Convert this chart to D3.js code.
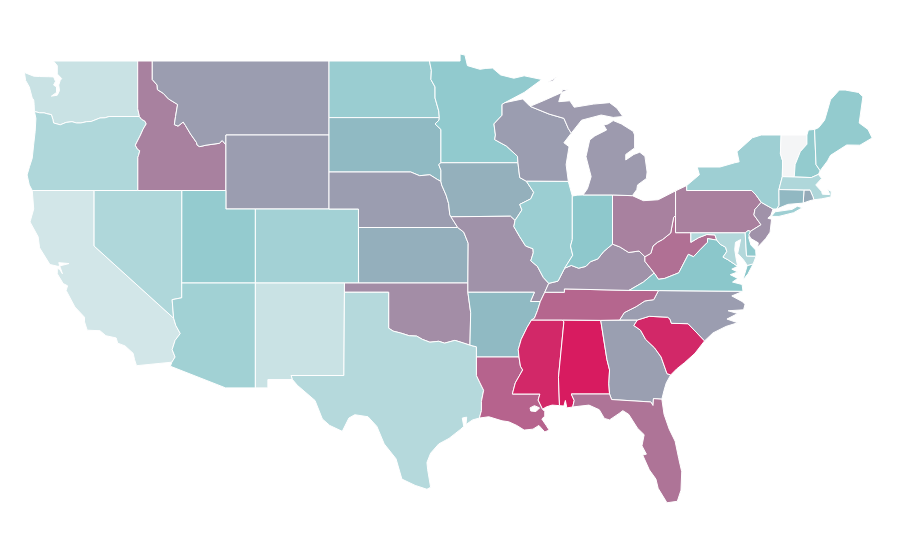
<!DOCTYPE html>
<html lang="en">

<head>
  <meta charset="utf-8">
  <title>US states choropleth</title>
  <script src="https://d3js.org/d3.v7.min.js"></script>
  <style>
    body { margin: 0; background: #fff; }
    #chart path { stroke: #fff; stroke-width: 1px; fill-rule: evenodd; }
  </style>
</head>

<body>
  <div id="chart"></div>

  <script>
    const WA = [[[-124.73,48.38],[-124.1,48.18],[-123.7,48.16],[-123.1,48.15],[-122.75,48.14],[-122.62,47.9],[-122.75,47.7],[-122.55,47.6],[-122.55,47.3],[-122.9,47.1],[-122.5,47.15],[-122.35,47.4],[-122.4,47.7],[-122.3,47.95],[-122.2,48.05],[-122.5,48.3],[-122.5,48.75],[-122.76,49],[-117.03,49],[-117.04,46.42],[-116.92,46],[-118.98,46],[-119.25,45.93],[-119.6,45.92],[-120.2,45.73],[-120.5,45.72],[-120.9,45.65],[-121.2,45.65],[-121.5,45.72],[-121.9,45.68],[-122.3,45.55],[-122.75,45.65],[-122.8,45.85],[-122.9,46.1],[-123.2,46.15],[-123.4,46.2],[-123.7,46.2],[-124.05,46.27],[-124.07,46.65],[-124.1,46.9],[-124.2,47],[-124.4,47.6],[-124.65,47.95]]];
    const OR = [[[-124.05,46.27],[-123.7,46.2],[-123.4,46.2],[-123.2,46.15],[-122.9,46.1],[-122.8,45.85],[-122.75,45.65],[-122.3,45.55],[-121.9,45.68],[-121.5,45.72],[-121.2,45.65],[-120.9,45.65],[-120.5,45.72],[-120.2,45.73],[-119.6,45.92],[-119.25,45.93],[-118.98,46],[-116.92,46],[-116.78,45.85],[-116.55,45.75],[-116.46,45.6],[-116.67,45.32],[-116.85,45],[-117.2,44.45],[-117.05,44.23],[-116.9,44.15],[-116.98,43.9],[-117.03,43.8],[-117.03,42],[-124.2,42],[-124.4,42.3],[-124.55,42.84],[-124.38,43.3],[-124.2,43.75],[-124.1,44.5],[-124,45.2],[-123.95,45.9]]];
    const CA = [[[-124.2,42],[-120,42],[-120,39],[-114.6,35.1],[-114.45,34.7],[-114.15,34.27],[-114.5,33.9],[-114.7,33.4],[-114.5,33],[-114.72,32.72],[-117.12,32.53],[-117.25,32.85],[-117.35,33.2],[-117.9,33.6],[-118.4,33.75],[-118.5,34.03],[-119.2,34.15],[-119.6,34.42],[-120.47,34.45],[-120.65,34.9],[-120.65,35.15],[-121.3,35.7],[-121.9,36.6],[-121.8,36.85],[-122.1,36.97],[-122.5,37.5],[-122.5,37.78],[-122.35,37.75],[-122.15,37.5],[-122.3,37.85],[-122.4,38.1],[-121.7,38.05],[-122.45,37.9],[-123,38],[-123.7,38.9],[-123.8,39.5],[-124.35,40.3],[-124.1,41]]];
    const NV = [[[-120,42],[-114.04,42],[-114.05,36.2],[-114.7,36.1],[-114.6,35.1],[-120,39]]];
    const ID = [[[-117.04,49],[-116.05,49],[-116.05,48],[-115.72,47.7],[-115.7,47.45],[-115.3,47.25],[-114.95,46.95],[-114.33,46.65],[-114.47,46],[-114.55,45.56],[-114.3,45.48],[-113.95,45.7],[-113.8,45.52],[-113.45,45.05],[-113.05,44.6],[-113,44.45],[-112.83,44.37],[-112.4,44.45],[-111.5,44.55],[-111.3,44.7],[-111.05,44.47],[-111.05,42],[-117.03,42],[-117.03,43.8],[-116.98,43.9],[-116.9,44.15],[-117.05,44.23],[-117.2,44.45],[-116.85,45],[-116.67,45.32],[-116.46,45.6],[-116.55,45.75],[-116.78,45.85],[-116.92,46],[-117.04,46.42]]];
    const MT = [[[-116.05,49],[-104.05,49],[-104.05,45],[-111.05,45],[-111.05,44.47],[-111.3,44.7],[-111.5,44.55],[-112.4,44.45],[-112.83,44.37],[-113,44.45],[-113.05,44.6],[-113.45,45.05],[-113.8,45.52],[-113.95,45.7],[-114.3,45.48],[-114.55,45.56],[-114.47,46],[-114.33,46.65],[-114.95,46.95],[-115.3,47.25],[-115.7,47.45],[-115.72,47.7],[-116.05,48]]];
    const WY = [[[-111.05,45],[-104.05,45],[-104.05,41],[-111.05,41]]];
    const UT = [[[-114.04,42],[-111.05,42],[-111.05,41],[-109.05,41],[-109.05,37],[-114.05,37]]];
    const CO = [[[-109.05,41],[-102.05,41],[-102.05,37],[-109.05,37]]];
    const AZ = [[[-114.05,37],[-109.05,37],[-109.05,31.33],[-111.07,31.33],[-114.82,32.5],[-114.72,32.72],[-114.5,33],[-114.7,33.4],[-114.5,33.9],[-114.15,34.27],[-114.45,34.7],[-114.6,35.1],[-114.7,36.1],[-114.05,36.2]]];
    const NM = [[[-109.05,37],[-103,37],[-103.04,32],[-106.62,32],[-106.53,31.78],[-108.2,31.78],[-108.2,31.33],[-109.05,31.33]]];
    const ND = [[[-104.05,49],[-97.23,49],[-97.1,48.5],[-97.13,48],[-96.85,47.6],[-96.85,47],[-96.6,46.3],[-96.56,45.94],[-104.05,45.94]]];
    const SD = [[[-104.05,45.94],[-96.56,45.94],[-96.58,45.8],[-96.85,45.6],[-96.45,45.3],[-96.45,43.5],[-96.6,43.4],[-96.45,43.1],[-96.45,42.49],[-96.7,42.6],[-97.2,42.85],[-97.9,42.8],[-98.5,43],[-104.05,43]]];
    const NE = [[[-104.05,43],[-98.5,43],[-97.9,42.8],[-97.2,42.85],[-96.7,42.6],[-96.45,42.49],[-96.4,42.3],[-96.1,41.75],[-95.93,41.3],[-95.85,40.7],[-95.77,40.58],[-95.31,40],[-102.05,40],[-102.05,41],[-104.05,41]]];
    const KS = [[[-102.05,40],[-95.31,40],[-94.9,39.75],[-94.6,39.15],[-94.62,37],[-102.04,37]]];
    const OK = [[[-103,37],[-94.62,37],[-94.62,36.5],[-94.43,35.4],[-94.48,33.64],[-94.9,33.75],[-95.5,33.9],[-96.2,33.75],[-96.6,33.85],[-97.2,33.8],[-97.7,33.95],[-98.1,34.13],[-98.6,34.15],[-99.2,34.3],[-99.7,34.4],[-100,34.56],[-100,36.5],[-103,36.5]]];
    const TX = [[[-103,36.5],[-100,36.5],[-100,34.56],[-99.7,34.4],[-99.2,34.3],[-98.6,34.15],[-98.1,34.13],[-97.7,33.95],[-97.2,33.8],[-96.6,33.85],[-96.2,33.75],[-95.5,33.9],[-94.9,33.75],[-94.48,33.64],[-94.04,33.55],[-94.04,33],[-94.04,32],[-93.8,31.6],[-93.55,31.2],[-93.7,30.6],[-93.7,30.1],[-93.84,29.7],[-94.3,29.6],[-94.75,29.35],[-94.7,29.75],[-95,29.7],[-94.9,29.25],[-95.1,29.1],[-95.9,28.6],[-96.6,28.3],[-97.15,27.8],[-97.4,27.3],[-97.35,26.9],[-97.15,25.96],[-97.4,25.85],[-98.2,26.06],[-99.1,26.4],[-99.5,27.5],[-100.3,28.3],[-100.8,29.25],[-101.4,29.77],[-102.3,29.88],[-102.7,29.7],[-103.15,28.98],[-104,29.3],[-104.5,29.65],[-105,30.65],[-106.2,31.47],[-106.53,31.78],[-106.62,32],[-103.04,32]]];
    const MN = [[[-97.23,49],[-95.15,49],[-95.15,49.38],[-94.82,49.32],[-94.65,48.75],[-93.8,48.55],[-93.4,48.6],[-92.95,48.62],[-92.4,48.25],[-91.5,48.07],[-90.8,48.2],[-89.6,48],[-90.8,47.3],[-92.1,46.75],[-92.3,46.65],[-92.3,46.07],[-92.85,45.6],[-92.75,45],[-92.8,44.75],[-92,44.4],[-91.25,43.85],[-91.22,43.5],[-96.45,43.5],[-96.45,45.3],[-96.85,45.6],[-96.58,45.8],[-96.56,45.94],[-96.6,46.3],[-96.85,47],[-96.85,47.6],[-97.13,48],[-97.1,48.5]]];
    const IA = [[[-96.45,43.5],[-91.22,43.5],[-91.1,42.7],[-90.65,42.5],[-90.15,41.9],[-90.35,41.55],[-91.1,41.25],[-90.95,40.95],[-91.42,40.38],[-91.73,40.61],[-95.77,40.58],[-95.85,40.7],[-95.93,41.3],[-96.1,41.75],[-96.4,42.3],[-96.45,42.49],[-96.45,43.1],[-96.6,43.4]]];
    const MO = [[[-95.77,40.58],[-91.73,40.61],[-91.42,40.38],[-91.5,40.05],[-91.1,39.5],[-90.7,39],[-90.2,38.85],[-90.18,38.63],[-90.35,38.2],[-89.9,37.9],[-89.5,37.3],[-89.13,36.98],[-89.4,36.5],[-89.7,36],[-90.37,36],[-90.1,36.5],[-94.62,36.5],[-94.62,37],[-94.6,39.15],[-94.9,39.75],[-95.31,40]]];
    const AR = [[[-94.62,36.5],[-90.1,36.5],[-90.37,36],[-89.7,36],[-89.9,35.5],[-90.1,35.1],[-90.3,35],[-90.6,34.6],[-91,33.95],[-91.2,33.4],[-91.15,33],[-94.04,33],[-94.04,33.55],[-94.48,33.64],[-94.43,35.4]]];
    const LA = [[[-94.04,33],[-91.15,33],[-91.05,32.5],[-90.9,32.3],[-91.4,31.6],[-91.6,31],[-89.73,31],[-89.85,30.67],[-89.55,30.18],[-89.4,30.05],[-89.4,29.8],[-89.6,29.65],[-89.3,29.3],[-89.1,29.05],[-89.4,28.95],[-89.8,29.3],[-90.2,29.1],[-90.8,29.05],[-91.3,29.3],[-91.85,29.5],[-92.3,29.55],[-93.2,29.77],[-93.84,29.7],[-93.7,30.1],[-93.7,30.6],[-93.55,31.2],[-93.8,31.6],[-94.04,32]],[[-90.4,30.25],[-90.1,30.37],[-89.75,30.25],[-90,30.05],[-90.35,30.08]]];
    const MS = [[[-90.3,35],[-88.2,35],[-88.1,34.9],[-88.47,31.9],[-88.4,30.37],[-88.9,30.4],[-89.3,30.3],[-89.55,30.18],[-89.85,30.67],[-89.73,31],[-91.6,31],[-91.4,31.6],[-90.9,32.3],[-91.05,32.5],[-91.15,33],[-91.2,33.4],[-91,33.95],[-90.6,34.6]]];
    const AL = [[[-88.2,35],[-85.6,34.98],[-85.18,32.87],[-85,32.3],[-85.05,31.55],[-85,31],[-87.6,31],[-87.4,30.65],[-87.5,30.3],[-87.9,30.25],[-88,30.65],[-88.1,30.35],[-88.4,30.37],[-88.47,31.9],[-88.1,34.9]]];
    const GA = [[[-85.6,34.98],[-83.11,35],[-83.35,34.7],[-82.9,34.45],[-82.55,33.95],[-81.95,33.5],[-81.5,33],[-81.1,32.1],[-80.85,32.03],[-81.15,31.6],[-81.3,31.2],[-81.45,30.72],[-82.02,30.75],[-82.05,30.38],[-82.2,30.57],[-84.86,30.7],[-85,31],[-85.05,31.55],[-85,32.3],[-85.18,32.87]]];
    const FL = [[[-87.6,31],[-85,31],[-84.86,30.7],[-82.2,30.57],[-82.05,30.38],[-82.02,30.75],[-81.45,30.72],[-81.3,29.9],[-80.95,29.1],[-80.55,28.45],[-80.3,27.5],[-80.1,26.8],[-80.15,25.8],[-80.4,25.2],[-81.1,25.12],[-81.7,25.9],[-81.85,26.4],[-82.3,26.9],[-82.75,27.7],[-82.5,27.75],[-82.8,28.2],[-82.65,28.8],[-83.1,29.15],[-83.7,29.9],[-84.1,30.1],[-84.35,29.95],[-85,29.6],[-85.35,29.68],[-85.7,30.15],[-86.4,30.4],[-87.5,30.3],[-87.4,30.65]]];
    const SC = [[[-83.11,35],[-82.3,35.2],[-81.05,35.15],[-80.9,35.05],[-80.8,34.82],[-79.67,34.8],[-78.55,33.87],[-79.2,33.2],[-79.9,32.7],[-80.45,32.35],[-80.85,32.03],[-81.1,32.1],[-81.5,33],[-81.95,33.5],[-82.55,33.95],[-82.9,34.45],[-83.35,34.7]]];
    const NC = [[[-84.32,35],[-83.11,35],[-82.3,35.2],[-81.05,35.15],[-80.9,35.05],[-80.8,34.82],[-79.67,34.8],[-78.55,33.87],[-77.98,34.3],[-77.1,34.65],[-76.3,34.85],[-77.03,35.05],[-76.3,35.35],[-76.95,35.5],[-75.9,35.55],[-75.8,35.85],[-76,36],[-76.7,36.3],[-75.94,36.55],[-81.68,36.59],[-82,36.1],[-82.6,36.03],[-83.2,35.72],[-84,35.4]]];
    const TN = [[[-89.7,36],[-89.4,36.5],[-88.07,36.5],[-88.07,36.68],[-83.68,36.6],[-81.68,36.59],[-82,36.1],[-82.6,36.03],[-83.2,35.72],[-84,35.4],[-84.32,35],[-85.6,34.98],[-88.2,35],[-90.3,35],[-90.1,35.1],[-89.9,35.5]]];
    const KY = [[[-89.4,36.5],[-89.13,36.98],[-88.5,37.1],[-88.05,37.8],[-87.6,37.95],[-87.1,37.8],[-86.6,37.9],[-86.3,38.15],[-85.8,38.3],[-85.4,38.7],[-84.8,39.1],[-84.3,38.95],[-83.7,38.65],[-83,38.73],[-82.6,38.42],[-82.6,38.17],[-81.97,37.54],[-82.7,37.05],[-83.68,36.6],[-88.07,36.68],[-88.07,36.5]]];
    const WV = [[[-82.6,38.42],[-82.2,38.6],[-82.05,39],[-81.75,39.2],[-81.4,39.35],[-80.85,39.7],[-80.65,40.55],[-80.52,40.64],[-80.52,39.72],[-79.48,39.72],[-79.48,39.2],[-78.95,39.45],[-78.4,39.62],[-77.85,39.6],[-77.72,39.32],[-78.35,39.4],[-78.35,39.2],[-78.85,38.8],[-79.3,38.42],[-79.65,38.55],[-80.3,37.55],[-81.25,37.25],[-81.68,37.2],[-81.97,37.54],[-82.6,38.17]]];
    const VA = [[[-83.68,36.6],[-82.7,37.05],[-81.97,37.54],[-81.68,37.2],[-81.25,37.25],[-80.3,37.55],[-79.65,38.55],[-79.3,38.42],[-78.85,38.8],[-78.35,39.2],[-78.35,39.4],[-77.72,39.32],[-77.5,39.1],[-77.12,38.93],[-77.04,38.7],[-77.3,38.4],[-76.95,38.25],[-76.3,37.9],[-76.7,37.75],[-76.3,37.6],[-76.8,37.45],[-76.3,37.25],[-76.65,37.05],[-76,36.92],[-75.94,36.55],[-81.68,36.59]],[[-75.95,37.15],[-75.65,37.95],[-75.25,38.03],[-75.6,37.5]]];
    const MD = [[[-79.48,39.72],[-75.79,39.72],[-75.7,38.46],[-75.05,38.45],[-75.25,38.03],[-75.65,37.95],[-75.9,38.25],[-76.3,38.6],[-76.1,39.35],[-76.45,39.2],[-76.5,38.8],[-76.4,38.3],[-76.3,37.9],[-76.95,38.25],[-77.3,38.4],[-77.04,38.7],[-77.12,38.93],[-77.5,39.1],[-77.72,39.32],[-77.85,39.6],[-78.4,39.62],[-78.95,39.45],[-79.48,39.2]]];
    const DE = [[[-75.79,39.72],[-75.6,39.84],[-75.42,39.8],[-75.55,39.45],[-75.4,39.05],[-75.08,38.78],[-75.05,38.45],[-75.7,38.46]]];
    const PA = [[[-80.52,41.98],[-79.76,42.27],[-79.76,42],[-75.35,42],[-75.05,41.75],[-74.7,41.36],[-75.13,40.98],[-75.2,40.68],[-74.72,40.15],[-75.42,39.8],[-75.6,39.84],[-75.79,39.72],[-80.52,39.72]]];
    const NJ = [[[-75.13,40.98],[-74.7,41.36],[-73.9,41],[-74.05,40.65],[-74.25,40.5],[-74,40.45],[-74.1,39.75],[-74.4,39.4],[-74.95,38.93],[-74.9,39.17],[-75.4,39.4],[-75.55,39.6],[-75.42,39.8],[-74.72,40.15],[-75.2,40.68]]];
    const NY = [[[-79.76,42],[-79.76,42.27],[-78.9,42.85],[-79.05,43.27],[-77.5,43.27],[-76.5,43.5],[-76.2,43.55],[-76.35,44.1],[-75.3,44.85],[-74.7,45],[-73.35,45],[-73.4,44],[-73.25,43.6],[-73.27,42.75],[-73.5,42.05],[-73.49,41.2],[-73.65,41],[-73.9,41],[-74.7,41.36],[-75.05,41.75],[-75.35,42]],[[-74.02,40.6],[-73.75,40.85],[-72.6,40.98],[-72.25,41.15],[-71.9,41.07],[-72.5,40.8],[-73.5,40.6]]];
    const VT = [[[-73.35,45],[-71.6,45],[-71.6,44.5],[-72.05,44.1],[-72.4,43.4],[-72.46,42.73],[-73.27,42.75],[-73.25,43.6],[-73.4,44]]];
    const NH = [[[-71.6,45],[-71.5,45.27],[-71.08,45.3],[-70.98,43.4],[-70.7,43.07],[-70.82,42.87],[-71.3,42.7],[-72.46,42.73],[-72.4,43.4],[-72.05,44.1],[-71.6,44.5]]];
    const ME = [[[-71.08,45.3],[-70.8,45.4],[-70.4,45.8],[-70.25,46.2],[-70,46.9],[-69.4,47.43],[-69,47.43],[-68.1,47.3],[-67.8,47.07],[-68.05,45.65],[-67.45,45.3],[-67.17,44.84],[-68,44.45],[-68.9,44.46],[-70,43.9],[-70.2,43.6],[-70.7,43.07],[-70.98,43.4]]];
    const MA = [[[-73.5,42.05],[-73.27,42.75],[-72.46,42.73],[-71.3,42.7],[-70.82,42.87],[-70.6,42.65],[-71,42.3],[-70.6,41.95],[-70.55,41.8],[-70.05,41.78],[-70.2,42.07],[-69.95,41.95],[-69.97,41.65],[-70.6,41.55],[-71.12,41.5],[-71.2,41.68],[-71.38,42.02],[-71.8,42.02]]];
    const RI = [[[-71.8,42.02],[-71.38,42.02],[-71.2,41.68],[-71.12,41.5],[-71.4,41.45],[-71.85,41.32]]];
    const CT = [[[-73.5,42.05],[-71.8,42.02],[-71.85,41.32],[-72.9,41.25],[-73.65,41],[-73.49,41.2]]];
    const WI = [[[-92.1,46.75],[-90.9,46.95],[-90.4,46.55],[-89.1,46.13],[-88.1,45.9],[-87.8,45.35],[-87.6,45.1],[-88.1,44.58],[-87.75,44.37],[-87.95,43.4],[-87.8,42.49],[-90.65,42.5],[-91.1,42.7],[-91.22,43.5],[-91.25,43.85],[-92,44.4],[-92.8,44.75],[-92.75,45],[-92.85,45.6],[-92.3,46.07],[-92.3,46.65]]];
    const IL = [[[-90.65,42.5],[-87.8,42.49],[-87.53,41.7],[-87.53,39.35],[-87.65,39],[-87.5,38.5],[-88.05,37.8],[-88.5,37.1],[-89.13,36.98],[-89.5,37.3],[-89.9,37.9],[-90.35,38.2],[-90.18,38.63],[-90.2,38.85],[-90.7,39],[-91.1,39.5],[-91.5,40.05],[-91.42,40.38],[-90.95,40.95],[-91.1,41.25],[-90.35,41.55],[-90.15,41.9]]];
    const IN = [[[-87.53,41.7],[-87.2,41.75],[-86.8,41.76],[-84.8,41.76],[-84.8,39.1],[-85.4,38.7],[-85.8,38.3],[-86.3,38.15],[-86.6,37.9],[-87.1,37.8],[-87.6,37.95],[-88.05,37.8],[-87.5,38.5],[-87.65,39],[-87.53,39.35]]];
    const OH = [[[-84.8,41.76],[-83.45,41.72],[-82.7,41.45],[-81.7,41.5],[-80.52,41.98],[-80.52,40.64],[-80.65,40.55],[-80.85,39.7],[-81.4,39.35],[-81.75,39.2],[-82.05,39],[-82.2,38.6],[-82.6,38.42],[-83,38.73],[-83.7,38.65],[-84.3,38.95],[-84.8,39.1]]];
    const MI = [[[-86.8,41.76],[-84.8,41.76],[-83.45,41.72],[-83.15,42.05],[-83.1,42.3],[-82.5,42.65],[-82.45,43],[-82.6,43.85],[-82.95,44.07],[-83.35,43.95],[-83.9,43.65],[-83.9,43.95],[-83.3,44.3],[-83.3,45],[-83.4,45.2],[-84.2,45.6],[-84.75,45.78],[-85.1,45.6],[-85.4,45.54],[-85.2,45.27],[-86,44.95],[-86.35,44.73],[-86.6,43.83],[-86.25,42.75],[-86.5,42.1]],[[-90.4,46.55],[-89.1,46.13],[-88.1,45.9],[-87.8,45.35],[-87.6,45.1],[-86.9,45.8],[-85.57,46.08],[-84.75,45.95],[-84.1,46],[-84.5,46.45],[-85,46.75],[-86.1,46.67],[-87.4,46.5],[-87.7,46.85],[-88.45,46.8],[-88.2,47.45],[-87.75,47.47],[-88.8,47.1],[-89.5,46.85]],[[-89.2,47.85],[-88.5,48.17],[-88.9,47.9]]];

    const stateNames = ['WA','OR','CA','NV','ID','MT','WY','UT','CO','AZ','NM','ND','SD','NE','KS','OK','TX','MN','IA','MO','AR','LA','MS','AL','GA','FL','SC','NC','TN','KY','WV','VA','MD','DE','PA','NJ','NY','VT','NH','ME','MA','RI','CT','WI','IL','IN','OH','MI'];
    const stateRings = [WA,OR,CA,NV,ID,MT,WY,UT,CO,AZ,NM,ND,SD,NE,KS,OK,TX,MN,IA,MO,AR,LA,MS,AL,GA,FL,SC,NC,TN,KY,WV,VA,MD,DE,PA,NJ,NY,VT,NH,ME,MA,RI,CT,WI,IL,IN,OH,MI];
    const stateValues = [20.5,33,16,33,68.5,60,60,45.7,38.6,39.5,20.5,43,53,60,55.6,65,30,47,55.5,63.5,53,77.7,96,100,59.5,72.5,96,60,77,63.5,74,50,31,48,69,63.5,41,0,46,46,33,57,53.5,60,42.4,48.6,68.5,61];

    const colorStops = [0, 50, 60, 100];
    const colorRange = ['#f4f5f6', '#8bc7cb', '#9b9db0', '#d81b60'];

    const largura = 900, altura = 560;

    // the map is stretched: lon and lat are both linear in the picture
    const x = d3.scaleLinear().domain([-104.05, -87.53]).range([329, 572.3]);
    const y = d3.scaleLinear().domain([49, 31]).range([61, 394]);
    const color = d3.scaleLinear().domain(colorStops).range(colorRange);

    const projecao = d3.geoTransform({
      point: function (lon, lat) { this.stream.point(x(lon), y(lat)); }
    });
    const caminho = d3.geoPath(projecao);

    const grafico = d3.select('#chart')
      .append('svg')
        .attr('width', largura)
        .attr('height', altura);

    // geojson rings repeat their first point at the end
    const estados = stateNames.map((nome, i) => ({
      type: 'Feature',
      properties: { nome: nome, valor: stateValues[i] },
      geometry: { type: 'MultiPolygon', coordinates: stateRings[i].map(r => [r.concat([r[0]])]) }
    }));

    grafico.selectAll('path')
      .data(estados)
      .enter()
        .append('path')
          .attr('d', caminho)
          .attr('fill', d => color(d.properties.valor));
  </script>
</body>

</html>
